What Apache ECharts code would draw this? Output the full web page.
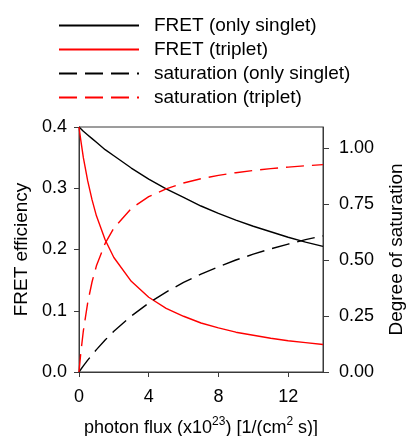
<!DOCTYPE html>
<html>
<head>
<meta charset="UTF-8">
<script src="https://cdn.jsdelivr.net/npm/echarts@6/dist/echarts.min.js"></script>
</head>
<body style="margin:0">
<div id="container" style="width:407px;height:436px;"></div>
<script type="text/javascript">
// photon flux (x10^23)
var flux = [0, 0.1, 0.25, 0.5, 0.75, 1, 1.5, 2, 3, 4, 5, 6, 7, 8, 9, 10, 11, 12, 13, 14];
// FRET efficiency (left axis)
var fretSinglet = [0.400, 0.397, 0.393, 0.387, 0.381, 0.375, 0.363, 0.353, 0.333, 0.315, 0.299, 0.285, 0.271, 0.259, 0.248, 0.238, 0.229, 0.220, 0.212, 0.205];
var fretTriplet = [0.400, 0.379, 0.350, 0.312, 0.281, 0.255, 0.216, 0.187, 0.148, 0.122, 0.104, 0.091, 0.080, 0.072, 0.065, 0.060, 0.055, 0.051, 0.048, 0.045];
// degree of saturation (right axis)
var satSinglet = [0, 0.011, 0.027, 0.053, 0.077, 0.100, 0.143, 0.182, 0.250, 0.308, 0.357, 0.400, 0.437, 0.470, 0.500, 0.526, 0.550, 0.571, 0.591, 0.608];
var satTriplet = [0, 0.083, 0.184, 0.310, 0.403, 0.474, 0.574, 0.643, 0.730, 0.783, 0.818, 0.844, 0.863, 0.878, 0.890, 0.900, 0.908, 0.915, 0.921, 0.926];

var xTicks = [0, 4, 8, 12];
var leftTicks = [0, 0.1, 0.2, 0.3, 0.4];
var rightTicks = [0, 0.25, 0.5, 0.75, 1.0];

function pairs(ys) {
    var out = [];
    for (var i = 0; i < flux.length; i++) out.push([flux[i], ys[i]]);
    return out;
}

var font = 'Liberation Sans, Arial, sans-serif';
var axisColor = '#3a3a3a';

var myChart = echarts.init(document.getElementById('container'));
var option = {
    animation: false,
    textStyle: {fontFamily: font, color: '#000'},
    legend: {
        orient: 'vertical',
        left: 53,
        top: 11,
        itemWidth: 80,
        itemHeight: 14,
        itemGap: 5,
        itemStyle: {opacity: 0},
        textStyle: {fontSize: 19, color: '#000', fontFamily: font, padding: [0, 0, 0, 10]},
        data: ['FRET (only singlet)', 'FRET (triplet)', 'saturation (only singlet)', 'saturation (triplet)']
    },
    grid: {
        left: 79, right: 84, top: 127, bottom: 64,
        outerBoundsMode: 'none',
        show: true, borderColor: axisColor, borderWidth: 1
    },
    xAxis: {
        type: 'value',
        min: 0, max: 14, interval: 4,
        splitLine: {show: false},
        axisLine: {lineStyle: {color: axisColor}},
        axisTick: {length: 5, lineStyle: {color: axisColor}, customValues: xTicks},
        axisLabel: {fontSize: 18, color: '#000', margin: 16, customValues: xTicks},
        name: '{n|photon flux (x10}{s|23}{n|) [1/(cm}{s|2}{n| s)]}',
        nameLocation: 'middle',
        nameGap: 44,
        nameTextStyle: {
            rich: {
                n: {fontSize: 18, lineHeight: 21, verticalAlign: 'bottom', color: '#000', fontFamily: font},
                s: {fontSize: 12, verticalAlign: 'top', color: '#000', fontFamily: font}
            }
        }
    },
    yAxis: [{
        type: 'value',
        position: 'left',
        min: 0, max: 0.4, interval: 0.1,
        splitLine: {show: false},
        axisLine: {show: true, lineStyle: {color: axisColor}},
        axisTick: {show: true, length: 5, lineStyle: {color: axisColor}, customValues: leftTicks},
        axisLabel: {fontSize: 18, color: '#000', margin: 12, customValues: leftTicks,
            formatter: function (v) { return v.toFixed(1); }},
        name: 'FRET efficiency',
        nameLocation: 'middle',
        nameRotate: 90,
        nameGap: 45,
        nameTextStyle: {fontSize: 19, color: '#000', fontFamily: font}
    }, {
        type: 'value',
        position: 'right',
        min: 0, max: 1.094, interval: 0.25,
        splitLine: {show: false},
        axisLine: {show: true, lineStyle: {color: axisColor}},
        axisTick: {show: true, length: 6, lineStyle: {color: axisColor}, customValues: rightTicks},
        axisLabel: {fontSize: 18, color: '#000', margin: 16, customValues: rightTicks,
            formatter: function (v) { return v.toFixed(2); }},
        name: 'Degree of saturation',
        nameLocation: 'middle',
        nameRotate: 90,
        nameGap: 64,
        nameTextStyle: {fontSize: 19, color: '#000', fontFamily: font}
    }],
    series: [
        {
            name: 'FRET (only singlet)', type: 'line', yAxisIndex: 0,
            symbol: 'none', color: '#000',
            lineStyle: {color: '#000', width: 1.4},
            data: pairs(fretSinglet)
        },
        {
            name: 'FRET (triplet)', type: 'line', yAxisIndex: 0,
            symbol: 'none', color: '#ff0000',
            lineStyle: {color: '#ff0000', width: 1.4},
            data: pairs(fretTriplet)
        },
        {
            name: 'saturation (only singlet)', type: 'line', yAxisIndex: 1,
            symbol: 'none', color: '#000',
            lineStyle: {color: '#000', width: 1.4, type: [18, 8]},
            data: pairs(satSinglet)
        },
        {
            name: 'saturation (triplet)', type: 'line', yAxisIndex: 1,
            symbol: 'none', color: '#ff0000',
            lineStyle: {color: '#ff0000', width: 1.4, type: [18, 8]},
            data: pairs(satTriplet)
        }
    ]
};
myChart.setOption(option);
</script>
</body>
</html>
